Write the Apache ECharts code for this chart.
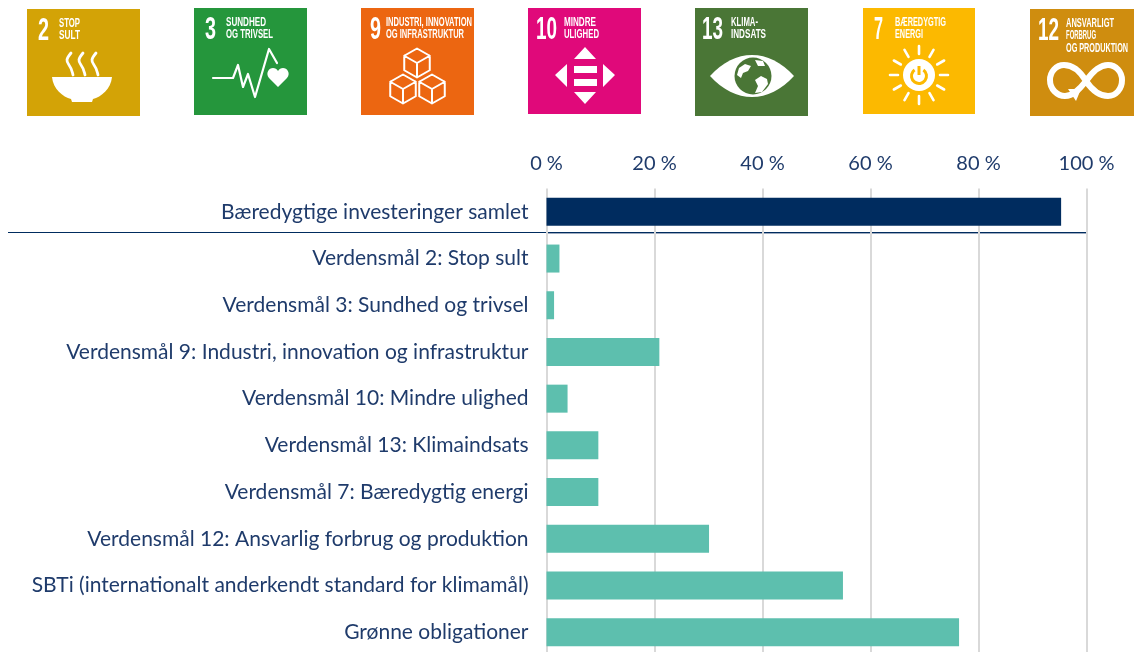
<!DOCTYPE html>
<html>
<head>
<meta charset="utf-8">
<style>html,body{margin:0;padding:0;background:#fff;overflow:hidden}#c{width:1134px;height:652px}</style>
<script src="https://cdn.jsdelivr.net/npm/echarts@6/dist/echarts.min.js"></script>
</head>
<body>
<div id="c"></div>
<script>
const categories = [
  'Bæredygtige investeringer samlet',
  'Verdensmål 2: Stop sult',
  'Verdensmål 3: Sundhed og trivsel',
  'Verdensmål 9: Industri, innovation og infrastruktur',
  'Verdensmål 10: Mindre ulighed',
  'Verdensmål 13: Klimaindsats',
  'Verdensmål 7: Bæredygtig energi',
  'Verdensmål 12: Ansvarlig forbrug og produktion',
  'SBTi (internationalt anderkendt standard for klimamål)',
  'Grønne obligationer'
];
const shares = [95.3, 2.4, 1.4, 20.9, 3.9, 9.6, 9.6, 30.1, 54.9, 76.4];
const goalNumbers = ['2', '3', '9', '10', '13', '7', '12'];
const goalTitles = [
  ['STOP', 'SULT'],
  ['SUNDHED', 'OG TRIVSEL'],
  ['INDUSTRI, INNOVATION', 'OG INFRASTRUKTUR'],
  ['MINDRE', 'ULIGHED'],
  ['KLIMA-', 'INDSATS'],
  ['BÆREDYGTIG', 'ENERGI'],
  ['ANSVARLIGT', 'FORBRUG', 'OG PRODUKTION']
];

const NAVY = '#002C5F', TEAL = '#5DBFAE', INK = '#1F3B6B', FONT = 'Lato';
const tiles = [
  {x:27,  y:9, w:113, h:107, c:'#D3A306', nx:11, nw:11, tx:32, lines:[21,21]},
  {x:194, y:8, w:113, h:107, c:'#25963C', nx:11, nw:11, tx:32, lines:[40,47]},
  {x:361, y:8, w:113, h:107, c:'#EC6611', nx:9,  nw:11, tx:25, lines:[86,78]},
  {x:528, y:8, w:113, h:106, c:'#E0097A', nx:8,  nw:21, tx:36, lines:[32,35]},
  {x:695, y:8, w:113, h:108, c:'#4A7636', nx:7,  nw:21, tx:36, lines:[27,35]},
  {x:863, y:8, w:112, h:106, c:'#FCB900', nx:11, nw:9,  tx:32, lines:[51,28]},
  {x:1030,y:9, w:113, h:107, c:'#CF8D0F', nx:8,  nw:21, tx:36, lines:[48,30,62]}
];
const WHITE = {fill:'#fff'};
const STROKE = w => ({fill:'none', stroke:'#fff', lineWidth:w, lineCap:'round', lineJoin:'round'});
let shapeCount = 0;
const p = (d, style) => {
  const name = 'tilePath' + (shapeCount++);
  echarts.graphic.registerShape(name, echarts.graphic.extendPath(d, {}));
  return {type:name, style};
};

function cube(cx, cy, r) {
  const h = r * 0.88, a = r * 0.5;
  return `M${cx} ${cy-r}L${cx+h} ${cy-a}L${cx+h} ${cy+a}L${cx} ${cy+r}L${cx-h} ${cy+a}L${cx-h} ${cy-a}ZM${cx-h} ${cy-a}L${cx} ${cy}L${cx+h} ${cy-a}M${cx} ${cy}L${cx} ${cy+r}`;
}
function rays(cx, cy, r1, r2, n) {
  let d = '';
  for (let i = 0; i < n; i++) {
    const t = i * 2 * Math.PI / n;
    d += `M${cx+r1*Math.sin(t)} ${cy-r1*Math.cos(t)}L${cx+r2*Math.sin(t)} ${cy-r2*Math.cos(t)}`;
  }
  return d;
}
const icons = [
  [ // bowl
    p('M25 68L85 68C84 80 74 88 66 90L65 93L45 93L44 90C36 88 26 80 25 68Z', WHITE),
    p('M44 44C39 50 39 52 42 56C45 60 45 62 46 66M56 44C51 50 51 52 54 56C57 60 57 62 58 66M69 44C64 50 64 52 67 56C70 60 70 62 71 66', STROKE(2.8))
  ],
  [ // pulse + heart
    p('M19 70L39 70L44 57L49 79L54 66L61 89L75 41L83 55', STROKE(2.2)),
    p('M84 79L75 70C71 65 75 60 79 60C81 60 83 61 84 63C85 61 87 60 89 60C93 60 97 65 93 70Z', WHITE)
  ],
  [ // cubes
    p(cube(56,55,14.5) + cube(42,81,14.5) + cube(71,81,14.5), STROKE(2))
  ],
  [ // arrows and equals
    p('M57 39L68 51L46 51ZM57 96L68 84L46 84ZM27 67L39 56L39 79ZM87 67L75 56L75 79ZM46 58L69 58L69 65L46 65ZM46 71L69 71L69 78L46 78Z', WHITE)
  ],
  [ // eye + globe
    p('M15 68C28 54 42 47 57 47C72 47 86 54 99 68C86 82 72 89 57 89C42 89 28 82 15 68Z', WHITE),
    {type:'circle', shape:{cx:58, cy:68, r:18.5}, style:{fill:'#4A7636'}},
    p('M44 60L50 56L56 58L53 63L48 65L46 70L42 67ZM60 72L66 68L72 71L73 76L67 84L60 85L63 78ZM60 52L68 53L70 58L63 58Z', WHITE)
  ],
  [ // sun + power
    {type:'circle', shape:{cx:56, cy:67, r:16}, style:WHITE},
    p(rays(56, 67, 21, 29, 12), STROKE(2.6)),
    {type:'arc', shape:{cx:56, cy:68, r:7.5, startAngle:-Math.PI*0.3, endAngle:-Math.PI*0.7, clockwise:true}, style:{fill:'none', stroke:'#FCB900', lineWidth:3}},
    {type:'line', shape:{x1:56, y1:58, x2:56, y2:67}, style:{stroke:'#FCB900', lineWidth:3}}
  ],
  [ // infinity
    p('M56 72C50 62 43 56 34 56C26 56 20 63 20 71C20 80 27 87 35 87C43 87 49 81 56 72C63 62 70 56 78 56C86 56 92 63 92 71C92 80 86 87 78 87C69 87 62 81 56 72Z', STROKE(6)),
    p('M38 80L51 80L46 92Z', WHITE)
  ]
];

const measure = document.createElement('canvas').getContext('2d');
function fitted(text, x, y, width, font) {
  measure.font = font;
  const natural = measure.measureText(text).width;
  return {type:'text', x, y, scaleX: width / natural,
          style:{text, font, fill:'#fff', textVerticalAlign:'top'}};
}
const tileGraphics = tiles.map((t, i) => {
  const children = [{type:'rect', shape:{x:0, y:0, width:t.w, height:t.h}, style:{fill:t.c}}];
  children.push(fitted(goalNumbers[i], t.nx, 7, t.nw, 'bold 31px "Liberation Sans"'));
  goalTitles[i].forEach((line, k) => {
    children.push(fitted(line, t.tx, 8 + k * 12.3, t.lines[k], 'bold 12.5px "Liberation Sans"'));
  });
  icons[i].forEach(el => children.push(el));
  return {type:'group', x:t.x, y:t.y, silent:true, children};
});

const chart = echarts.init(document.getElementById('c'), null, {renderer:'canvas'});
chart.setOption({
  animation:false,
  backgroundColor:'#fff',
  grid:{left:546.5, top:188.5, width:540, height:467, containLabel:false, outerBoundsMode:'none'},
  xAxis:{
    type:'value', position:'top', min:0, max:100, interval:20,
    axisLine:{show:false}, axisTick:{show:false},
    axisLabel:{formatter:'{value} %', color:INK, fontFamily:FONT, fontSize:20, margin:15},
    splitLine:{show:true, lineStyle:{color:'#D9D9D9', width:2}}
  },
  yAxis:{
    type:'category', inverse:true, data:categories,
    axisLine:{show:false}, axisTick:{show:false},
    axisLabel:{color:INK, fontFamily:FONT, fontSize:21, margin:18}
  },
  series:[{
    type:'bar', barWidth:28,
    data:shares.map((v, i) => ({value:v, itemStyle:{color:i === 0 ? NAVY : TEAL}}))
  }],
  graphic:{elements:[
    ...tileGraphics,
    {type:'line', silent:true, shape:{x1:546, y1:233, x2:1088, y2:233}, style:{stroke:'#7C8FAB', lineWidth:1.5}},
    {type:'line', silent:true, shape:{x1:8, y1:232.5, x2:1088, y2:232.5}, style:{stroke:NAVY, lineWidth:1}}
  ]}
});
</script>
</body>
</html>
